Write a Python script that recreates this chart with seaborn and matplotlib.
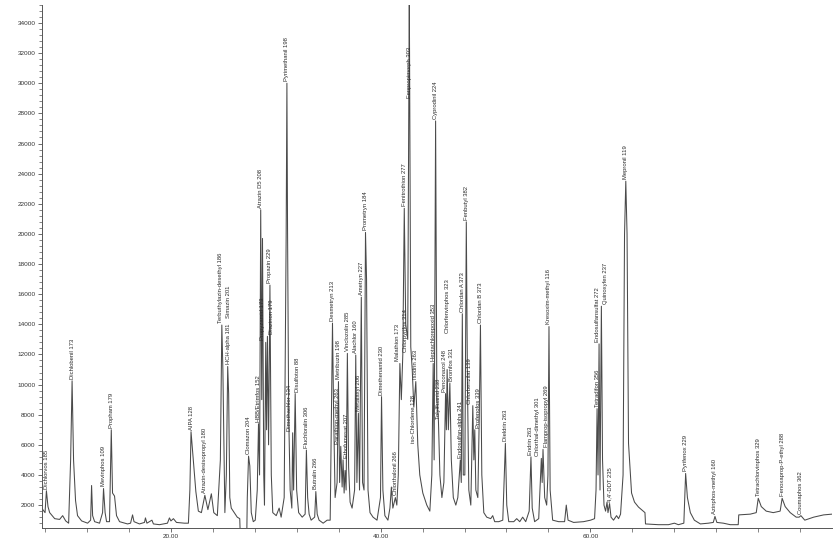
import matplotlib
matplotlib.use("Agg")
import matplotlib.pyplot as plt
import seaborn as sns
import pandas as pd
from matplotlib.ticker import MultipleLocator, FixedLocator, FormatStrFormatter

# ---------------- data ----------------
trace_time = [
    7.65, 7.97, 8.10, 8.25, 8.41, 8.89, 9.36, 9.65, 9.94, 10.22,
    10.41, 10.55, 10.69, 10.88, 11.07, 11.46, 12.03, 12.32, 12.41, 12.51,
    12.70, 13.17, 13.46, 13.55, 13.70, 13.84, 14.12, 14.29, 14.41, 14.60,
    14.79, 15.08, 15.84, 16.13, 16.32, 16.46, 16.98, 17.46, 17.55, 17.69,
    18.17, 18.31, 18.89, 19.65, 19.84, 19.98, 20.22, 20.51, 21.27, 21.65,
    21.79, 21.90, 22.07, 22.36, 22.60, 22.89, 23.22, 23.51, 23.84, 24.07,
    24.41, 24.70, 24.84, 24.94, 25.13, 25.27, 25.40, 25.49, 25.60, 25.74,
    26.03, 26.31, 26.55, 26.60, 27.22, 27.27, 27.39, 27.51, 27.65, 27.84,
    28.03, 28.22, 28.34, 28.44, 28.55, 28.65, 28.72, 28.84, 28.91, 29.03,
    29.11, 29.19, 29.30, 29.43, 29.56, 29.70, 30.03, 30.31, 30.50, 30.79,
    30.98, 31.05, 31.11, 31.22, 31.36, 31.52, 31.60, 31.69, 31.84, 31.98,
    32.17, 32.51, 32.79, 32.91, 33.03, 33.17, 33.36, 33.70, 33.81, 33.94,
    34.12, 34.51, 34.89, 35.18, 35.32, 35.40, 35.51, 35.65, 35.84, 35.97,
    36.08, 36.19, 36.32, 36.41, 36.51, 36.60, 36.70, 36.82, 36.94, 37.08,
    37.27, 37.51, 37.62, 37.73, 37.87, 37.98, 38.15, 38.27, 38.41, 38.55,
    38.65, 38.79, 38.98, 39.27, 39.65, 39.98, 40.08, 40.21, 40.40, 40.69,
    40.88, 41.02, 41.16, 41.40, 41.54, 41.68, 41.83, 41.97, 42.11, 42.25,
    42.39, 42.58, 42.73, 42.87, 43.01, 43.16, 43.35, 43.54, 43.73, 44.02,
    44.40, 44.69, 44.88, 45.01, 45.10, 45.24, 45.36, 45.51, 45.65, 45.84,
    46.03, 46.19, 46.27, 46.34, 46.46, 46.60, 46.74, 46.93, 47.17, 47.36,
    47.60, 47.69, 47.79, 47.88, 48.03, 48.17, 48.28, 48.41, 48.60, 48.79,
    48.89, 48.98, 49.08, 49.27, 49.41, 49.52, 49.65, 49.84, 50.12, 50.50,
    50.69, 50.88, 51.27, 51.65, 51.90, 52.03, 52.22, 52.70, 52.98, 53.27,
    53.55, 53.84, 54.17, 54.34, 54.46, 54.69, 55.08, 55.33, 55.41, 55.49,
    55.65, 55.84, 55.96, 56.06, 56.17, 56.41, 56.98, 57.55, 57.71, 57.88,
    58.41, 59.36, 60.03, 60.41, 60.55, 60.65, 60.74, 60.84, 60.93, 61.06,
    61.17, 61.31, 61.46, 61.60, 61.69, 61.84, 61.98, 62.22, 62.51, 62.70,
    62.89, 63.13, 63.27, 63.39, 63.51, 63.65, 63.94, 64.22, 64.60, 65.22,
    65.27, 66.50, 67.46, 68.03, 68.41, 68.93, 69.10, 69.27, 69.55, 69.93,
    70.51, 71.27, 71.74, 71.90, 72.08, 72.70, 73.36, 74.12, 74.17, 75.27,
    75.84, 76.03, 76.32, 76.79, 77.46, 78.12, 78.31, 78.60, 79.08, 79.65,
    79.93, 80.10, 80.47, 81.32, 82.27, 83.07,
]
trace_signal = [
    1800, 1500, 2950, 1900, 1500, 1100, 1050, 1300, 950, 800,
    5000, 10250, 5000, 2300, 1300, 950, 800, 1000, 3300, 1300,
    900, 800, 1500, 3100, 1500, 900, 900, 7000, 2800, 2600,
    1300, 900, 750, 800, 1350, 900, 750, 850, 1150, 800,
    1000, 750, 700, 800, 1150, 950, 1100, 850, 800, 800,
    3000, 6870, 5400, 2900, 1600, 1500, 2650, 1700, 2750, 1500,
    1300, 5000, 13950, 11000, 1500, 4000, 11200, 9400, 2500, 1800,
    1500, 1200, 1100, 0, 0, 2500, 5250, 4600, 1500, 900,
    1000, 3000, 7400, 4000, 21600, 9000, 19700, 4000, 2000, 12800,
    7000, 13200, 6000, 16600, 4000, 1500, 1300, 1800, 1200, 2500,
    20000, 30000, 20400, 8000, 3000, 1800, 6800, 3000, 9400, 3000,
    1500, 1200, 1400, 5650, 2500, 1400, 1000, 1200, 2900, 1400,
    1000, 800, 1000, 1000, 9000, 14080, 8000, 2500, 3500, 10200,
    3500, 5900, 3200, 5000, 2800, 4300, 3000, 12070, 4500, 2200,
    1800, 3000, 11960, 3500, 8100, 3000, 15800, 3500, 3000, 20100,
    17000, 3000, 1500, 1200, 1000, 2500, 9200, 3000, 1300, 1000,
    1800, 3200, 1800, 2500, 2000, 4000, 11400, 9000, 12000, 21700,
    14000, 13000, 36000, 12500, 11000, 8500, 10200, 6000, 4000, 2800,
    2000, 1600, 4000, 11400, 5000, 27500, 9000, 7600, 4000, 2500,
    3500, 9400, 7000, 11000, 7000, 10100, 5000, 2500, 2000, 2500,
    5000, 3500, 14700, 4000, 4000, 20800, 10000, 3000, 2000, 8600,
    5000, 7000, 3000, 2500, 8000, 13950, 4000, 1500, 1200, 1100,
    1300, 900, 900, 1000, 6100, 2000, 900, 900, 1100, 900,
    1200, 900, 1600, 5200, 1800, 900, 1100, 5100, 3500, 5700,
    2500, 2000, 4000, 13850, 3000, 1000, 900, 900, 2000, 1000,
    850, 900, 1000, 1100, 3000, 8400, 4000, 12700, 3000, 15200,
    5000, 2000, 1600, 2200, 1500, 2100, 1200, 1000, 1300, 1100,
    1400, 4000, 20000, 23500, 20000, 6100, 2800, 2200, 1870, 1500,
    750, 700, 700, 800, 700, 800, 4100, 2500, 1500, 1000,
    750, 800, 850, 1250, 850, 800, 700, 700, 1350, 1400,
    1500, 2450, 1900, 1600, 1500, 1600, 2450, 1900, 1500, 1200,
    1200, 1300, 1000, 1200, 1350, 1400,
]

label_time = [
    8.10, 10.55, 13.55, 14.29, 21.90, 23.22, 24.84, 25.40, 25.49, 27.39,
    28.34, 28.55, 29.03, 29.19, 29.43, 31.05, 31.60, 31.84, 32.91, 33.81,
    35.40, 35.97, 36.19, 36.41, 36.82, 37.62, 37.87, 38.15, 38.55, 40.08,
    41.40, 41.83, 42.11, 42.25, 42.73, 43.16, 43.35, 45.01, 45.24, 45.51,
    46.19, 46.34, 46.60, 47.60, 47.79, 48.17, 48.79, 48.98, 49.52, 51.90,
    54.34, 55.33, 55.49, 56.06, 60.65, 60.84, 61.06, 61.84, 63.39, 69.10,
    71.90, 76.03, 78.31, 80.10,
]
label_height = [
    2950, 10250, 3100, 7000, 6870, 2650, 13950, 11200, 9400, 5250,
    7400, 21600, 12800, 13200, 16600, 30000, 6800, 9400, 5650, 2900,
    14080, 10200, 5900, 5000, 12070, 11960, 8100, 15800, 20100, 9200,
    2500, 11400, 12000, 21700, 36000, 8500, 10200, 11400, 27500, 7600,
    9400, 11000, 10100, 5000, 14700, 20800, 8600, 7000, 13950, 6100,
    5200, 5100, 5700, 13850, 8400, 12700, 15200, 2100, 23500, 4100,
    1250, 2450, 2450, 1300,
]
label_text = [
    "Dichlorvos 185", "Dichlobenil 173", "Mevinphos 109", "Propham 179",
    "AIPA 128", "Atrazin-desisopropyl 180", "Terbuthylazin-desethyl 186",
    "HCH-alpha 181", "Simazin 201", "Clomazon 204", "HBB/Etrimfos 152",
    "Atrazin D5 208", "Propyzamid 173", "Diazinon 179", "Propazin 229",
    "Pyrimethanil 198", "Dimethachlor 134", "Disulfoton 88",
    "Fluchloralin 306", "Butralin 266", "Desmetryn 213", "Metribuzin 198",
    "Parathion-methyl 263", "Ethofumesat 207", "Vinclozolin 285",
    "Alachlor 160", "Metalaxyl 206", "Ametryn 227", "Prometryn 184",
    "Dimethenamid 230", "Chlorthalonil 266", "Malathion 173",
    "Chlorpyrifos 314", "Fenitrothion 277", "Fenpropimorph 303",
    "iso-Chlordene 128", "Isodrin 263", "Heptachlorepoxid 353",
    "Cyprodinil 224", "Tolylfluanid 238", "Penconazol 248",
    "Chlorfenvinphos 323", "Bromfos 331", "Endosulfan-alpha 241",
    "Chlordan A 373", "Fenbutyl 382", "Chlorbenzilat 139",
    "Profenofos 339", "Chlordan B 373", "Dieldrin 263", "Endrin 263",
    "Chlorthal-dimethyl 301", "Flamprop-isopropyl 269",
    "Kresoxim-methyl 116", "Tetradifon 356", "Endosulfansulfat 272",
    "Quinoxyfen 237", "4,4'-DDT 235", "Mepronil 119", "Pyrifenox 229",
    "Azinphos-methyl 160", "Tetrachlorvinphos 329",
    "Fenoxaprop-P-ethyl 288", "Coumaphos 362",
]

y_ticks = list(range(2000, 34001, 2000))
x_major_ticks = [20, 40, 60]

# ---------------- layout / style ----------------
# label base (in signal units) where the label is lifted above its peak
label_anchor_override = {"Fenpropimorph 303": 28900, "Simazin 201": 14300,
                         "iso-Chlordene 128": 6000, "Chlorfenvinphos 323": 13300}
# sideways nudges (points) for labels of crowded peaks
label_dx = {"Propyzamid 173": -2.6, "Diazinon 179": 2.6,
            "Parathion-methyl 263": -2.6, "Ethofumesat 207": 2.6,
            "Chlorthal-dimethyl 301": -2.6, "Flamprop-isopropyl 269": 2.6,
            "Endosulfansulfat 272": -1.2, "Quinoxyfen 237": 3.0,
            "Chlorbenzilat 139": -2.6, "Profenofos 339": 2.6,
            "Penconazol 248": -1.0, "Bromfos 331": 1.5,
            "Malathion 173": -2.0, "Chlorpyrifos 314": 1.6,
            "Dimethachlor 134": -2.0, "Disulfoton 88": 2.0,
            "HCH-alpha 181": 0.8, "Terbuthylazin-desethyl 186": -0.8}

sns.set_theme(style="ticks")
plt.rcParams["font.family"] = ["Liberation Sans", "DejaVu Sans"]

fig = plt.figure(figsize=(8.34, 5.45), dpi=100)
ax = fig.add_axes([0.050, 0.031, 0.948, 0.960])

df = pd.DataFrame({"time": trace_time, "signal": trace_signal})
sns.lineplot(data=df, x="time", y="signal", ax=ax, estimator=None, sort=False,
             color="#4a4a4a", linewidth=0.75)

ax.set_xlim(7.65, 83.1)
ax.set_ylim(473, 35200)

for t, h, s in zip(label_time, label_height, label_text):
    base = label_anchor_override.get(s, h)
    dx = label_dx.get(s, 0.0)
    ax.annotate(s, xy=(t, base), xytext=(dx, 1.5), textcoords="offset points",
                rotation=90, ha="center", va="bottom", fontsize=4.2,
                color="#2a2a2a", annotation_clip=False)

ax.yaxis.set_major_locator(FixedLocator(y_ticks))
ax.yaxis.set_minor_locator(MultipleLocator(400))
ax.xaxis.set_major_locator(FixedLocator(x_major_ticks))
ax.xaxis.set_minor_locator(MultipleLocator(4))
ax.xaxis.set_major_formatter(FormatStrFormatter("%.2f"))
ax.tick_params(axis="both", which="major", labelsize=4.6, length=3,
               width=0.6, color="#555555", labelcolor="#333333", pad=1.5)
ax.tick_params(axis="both", which="minor", length=2, width=0.5, color="#555555")
ax.tick_params(axis="x", which="minor", length=3)

sns.despine(ax=ax, top=True, right=True)
for sp in ("left", "bottom"):
    ax.spines[sp].set_linewidth(0.7)
    ax.spines[sp].set_color("#555555")
ax.set_xlabel("")
ax.set_ylabel("")

fig.savefig("out.png", dpi=100)
